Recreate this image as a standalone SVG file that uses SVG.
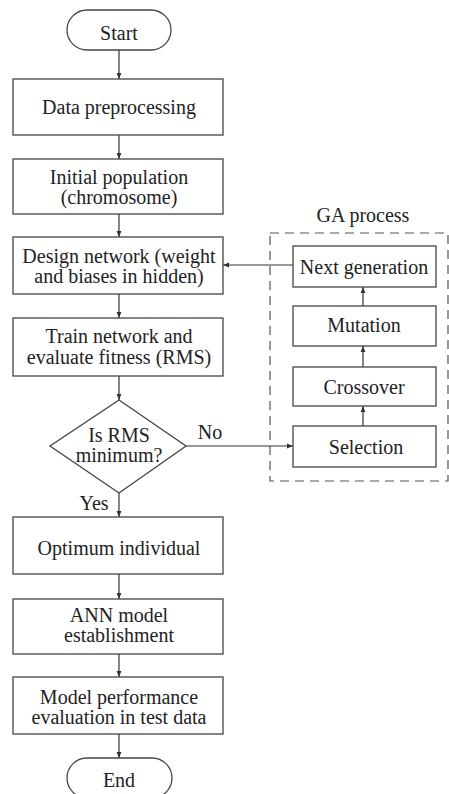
<svg xmlns="http://www.w3.org/2000/svg" width="449" height="794" viewBox="0 0 449 794">
<defs>
<marker id="ah" viewBox="0 0 10 10" refX="10" refY="5" markerWidth="6" markerHeight="6" orient="auto" markerUnits="userSpaceOnUse">
<path d="M0,1 L10,5 L0,9 z" fill="#333"/>
</marker>
<style>
.n{fill:#fff;stroke:#444;stroke-width:1.3}
.t{font-family:"Liberation Serif","Times New Roman",serif;font-size:20px;fill:#222;text-anchor:middle}
.c{fill:none;stroke:#333;stroke-width:1.2}
.d{fill:none;stroke:#555;stroke-width:1.2;stroke-dasharray:9,6}
</style>
</defs>
<rect width="449" height="794" fill="#fff"/>
<g id="ga-group">
<rect class="d" x="270" y="233" width="178" height="248"/>
<text class="t" x="363" y="222">GA process</text>
</g>
<g id="connectors">
<line class="c" x1="119" y1="50" x2="119" y2="79" marker-end="url(#ah)"/>
<line class="c" x1="119" y1="135" x2="119" y2="159" marker-end="url(#ah)"/>
<line class="c" x1="119" y1="214" x2="119" y2="237" marker-end="url(#ah)"/>
<line class="c" x1="119" y1="294" x2="119" y2="318" marker-end="url(#ah)"/>
<line class="c" x1="119" y1="376" x2="119" y2="400" marker-end="url(#ah)"/>
<line class="c" x1="119" y1="493" x2="119" y2="517" marker-end="url(#ah)"/>
<line class="c" x1="119" y1="574" x2="119" y2="599" marker-end="url(#ah)"/>
<line class="c" x1="119" y1="654" x2="119" y2="677" marker-end="url(#ah)"/>
<line class="c" x1="119" y1="734" x2="119" y2="758" marker-end="url(#ah)"/>
<line class="c" x1="186" y1="446" x2="293" y2="446" marker-end="url(#ah)"/>
<line class="c" x1="293" y1="265" x2="223" y2="265" marker-end="url(#ah)"/>
<line class="c" x1="363" y1="426" x2="363" y2="406" marker-end="url(#ah)"/>
<line class="c" x1="363" y1="367" x2="363" y2="346" marker-end="url(#ah)"/>
<line class="c" x1="363" y1="306" x2="363" y2="287" marker-end="url(#ah)"/>
<text class="t" x="210" y="439">No</text>
<text class="t" x="94" y="510">Yes</text>
</g>
<g id="start">
<rect class="n" x="67" y="10" width="104" height="40" rx="20"/>
<text class="t" x="119" y="40">Start</text>
</g>
<g id="data-preprocessing">
<rect class="n" x="13" y="79" width="210" height="56"/>
<text class="t" x="119" y="114">Data preprocessing</text>
</g>
<g id="initial-population">
<rect class="n" x="13" y="159" width="210" height="55"/>
<text class="t" x="119" y="184">Initial population</text>
<text class="t" x="119" y="204">(chromosome)</text>
</g>
<g id="design-network">
<rect class="n" x="13" y="237" width="210" height="57"/>
<text class="t" x="119" y="263">Design network (weight</text>
<text class="t" x="119" y="283">and biases in hidden)</text>
</g>
<g id="train-network">
<rect class="n" x="13" y="318" width="210" height="58"/>
<text class="t" x="119" y="343">Train network and</text>
<text class="t" x="119" y="364">evaluate fitness (RMS)</text>
</g>
<g id="decision">
<polygon class="n" points="119,400 186,446 119,493 50,446"/>
<text class="t" x="119" y="442">Is RMS</text>
<text class="t" x="119" y="462">minimum?</text>
</g>
<g id="optimum">
<rect class="n" x="13" y="517" width="210" height="57"/>
<text class="t" x="119" y="555">Optimum individual</text>
</g>
<g id="ann-model">
<rect class="n" x="13" y="599" width="210" height="55"/>
<text class="t" x="119" y="622">ANN model</text>
<text class="t" x="119" y="642">establishment</text>
</g>
<g id="model-performance">
<rect class="n" x="13" y="677" width="210" height="57"/>
<text class="t" x="119" y="704">Model performance</text>
<text class="t" x="119" y="724">evaluation in test data</text>
</g>
<g id="end">
<rect class="n" x="67" y="758" width="105" height="40" rx="20"/>
<text class="t" x="119" y="787">End</text>
</g>
<g id="next-generation">
<rect class="n" x="293" y="246" width="143" height="41"/>
<text class="t" x="364" y="274">Next generation</text>
</g>
<g id="mutation">
<rect class="n" x="293" y="306" width="143" height="40"/>
<text class="t" x="364" y="332">Mutation</text>
</g>
<g id="crossover">
<rect class="n" x="293" y="367" width="143" height="39"/>
<text class="t" x="364" y="394">Crossover</text>
</g>
<g id="selection">
<rect class="n" x="293" y="426" width="143" height="41"/>
<text class="t" x="366" y="454">Selection</text>
</g>
</svg>
